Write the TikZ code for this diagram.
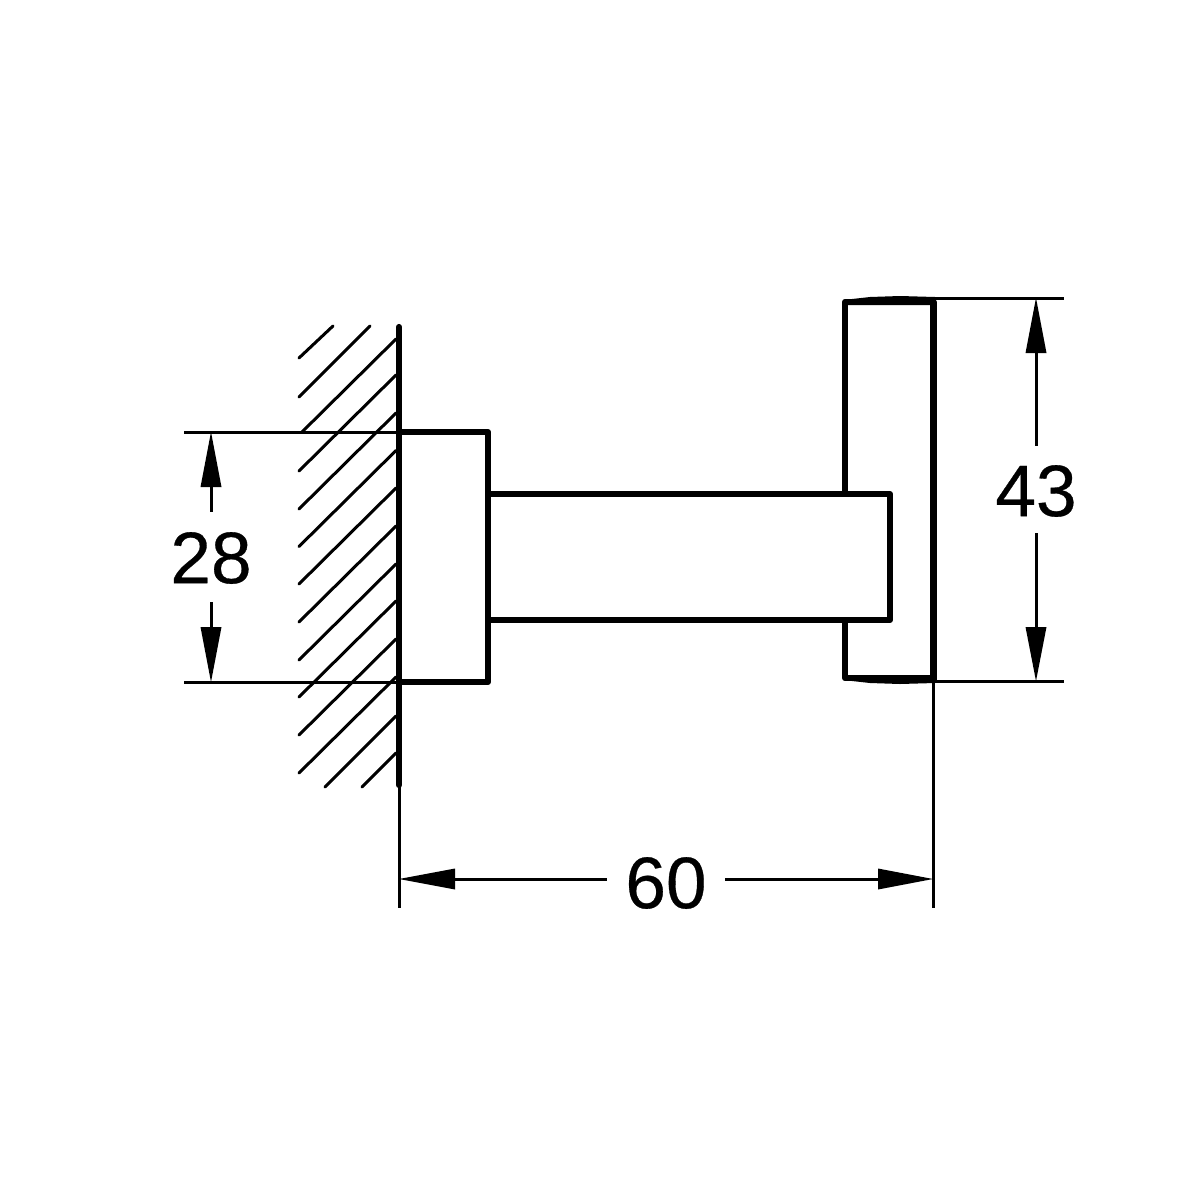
\documentclass[tikz,border=0pt]{standalone}
\usepackage{fontspec}
\setmainfont[FakeBold=0.4]{Liberation Sans}
\tikzset{
  thick line/.style={line width=6.2pt,line join=round},
  thin line/.style={line width=3pt},
  hatch line/.style={line width=3pt,line cap=round},
  dim label/.style={font=\fontsize{73}{73}\selectfont,inner sep=0pt,text=black},
  arrow head/.style={fill=black,draw=none}
}
\begin{document}
\begin{tikzpicture}[x=1pt,y=-1pt]
\useasboundingbox (0,0) rectangle (1200,1200);
% hatching
\draw[hatch line] (299,358) -- (333,326);
\draw[hatch line] (299,397) -- (370,326);
\draw[hatch line] (302,432) -- (396,339);
\foreach \y in {471,509,546.5,584,622,660,697,735,773}
  \draw[hatch line] (299,\y) -- (396,\y-96);
\draw[hatch line] (325,787) -- (396,716);
\draw[hatch line] (362,787) -- (396,753);
% wall
\draw[line width=6.2pt,line cap=round] (399,327) -- (399,785);
\draw[thin line] (399,785) -- (399,908);
% rosette
\draw[thick line] (399,432) -- (488,432) -- (488,682) -- (399,682);
% stem
\draw[thick line] (490,494) -- (890,494) -- (890,620) -- (490,620);
% plate
\draw[thick line] (845,494) -- (845,302) -- (933.5,302) -- (933.5,682);
\draw[thick line] (845,620) -- (845,678) -- (933.5,678);
\fill (843,300) -- (870,297) -- (900,296) -- (935,297) -- (935,305) -- (843,305) -- cycle;
\fill (843,676) -- (935,676) -- (935,683) -- (900,684) -- (870,683) -- (843,680) -- cycle;
% extension lines
\draw[thin line] (184,432) -- (399,432);
\draw[thin line] (184,682) -- (399,682);
\draw[thin line] (933,298) -- (1064,298);
\draw[thin line] (933,681) -- (1064,681);
\draw[thin line] (933,682) -- (933,908);
% dimension 28
\coordinate (a28t) at (211,432);
\coordinate (a28b) at (211,682);
\fill[arrow head] (a28t) -- (200.5,487) -- (221.5,487) -- cycle;
\fill[arrow head] (a28b) -- (200.5,627) -- (221.5,627) -- cycle;
\draw[thin line] (211,487) -- (211,512);
\draw[thin line] (211,602) -- (211,627);
\node[dim label] (n28) at (211,558) {28};
% dimension 43
\coordinate (a43t) at (1036,298);
\coordinate (a43b) at (1036,681);
\fill[arrow head] (a43t) -- (1025.5,353) -- (1046.5,353) -- cycle;
\fill[arrow head] (a43b) -- (1025.5,627) -- (1046.5,627) -- cycle;
\draw[thin line] (1036,353) -- (1036,446);
\draw[thin line] (1036,533) -- (1036,627);
\node[dim label] (n43) at (1036,491) {43};
% dimension 60
\coordinate (a60l) at (399,879);
\coordinate (a60r) at (933,879);
\fill[arrow head] (a60l) -- (455,868.5) -- (455,889.5) -- cycle;
\fill[arrow head] (a60r) -- (878,868.5) -- (878,889.5) -- cycle;
\draw[thin line] (455,879) -- (607,879);
\draw[thin line] (725,879) -- (878,879);
\node[dim label] (n60) at (666,883) {60};
\end{tikzpicture}
\end{document}
